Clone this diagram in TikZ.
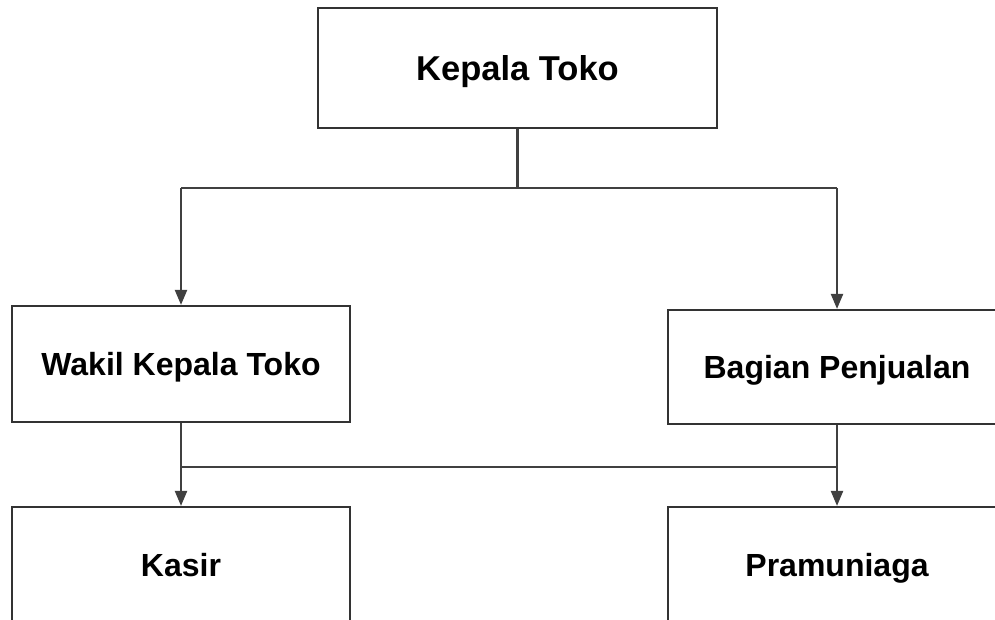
\documentclass[tikz,border=0pt]{standalone}
\usepackage{fontspec}
\setmainfont{Liberation Sans}
\usetikzlibrary{arrows.meta}

\tikzset{
  jabatan/.style={draw=black!80, line width=2.2pt, inner sep=0pt,
    minimum width=338pt, minimum height=116pt,
    text height=23pt, text depth=0pt,
    font=\bfseries\fontsize{32}{38}\selectfont},
  garis/.style={draw=black!75, line width=2.2pt},
  panah/.style={garis, -{Triangle[width=12pt,length=15pt]}}
}

\begin{document}
\begin{tikzpicture}[x=1pt,y=-1pt]
\useasboundingbox[fill=white] (0,0) rectangle (995,619);

\node[jabatan, minimum width=399pt, minimum height=120pt, text height=24.5pt,
  font=\bfseries\fontsize{34.5}{40}\selectfont] (kepala) at (517.5,68) {Kepala Toko};
\node[jabatan] (wakil) at (181,364) {Wakil Kepala Toko};
\node[jabatan, minimum height=114pt] (bagian) at (837,367) {Bagian Penjualan};
\node[jabatan] (kasir) at (181,565) {Kasir};
\node[jabatan] (pramuniaga) at (837,565) {Pramuniaga};

% garis dari kepala toko
\coordinate (kiri) at (181,188);
\coordinate (kanan) at (837,188);
\draw[garis] (kepala.south) -- (kepala.south |- kiri);
\draw[garis] (kiri) -- (kanan);
\draw[panah] (kiri) -- (wakil.north);
\draw[panah] (kanan) -- (bagian.north);

% garis ke kasir dan pramuniaga
\coordinate (bawah) at (0,467);
\draw[panah] (wakil.south) -- (kasir.north);
\draw[panah] (bagian.south) -- (pramuniaga.north);
\draw[garis] (wakil.south |- bawah) -- (bagian.south |- bawah);
\end{tikzpicture}
\end{document}
